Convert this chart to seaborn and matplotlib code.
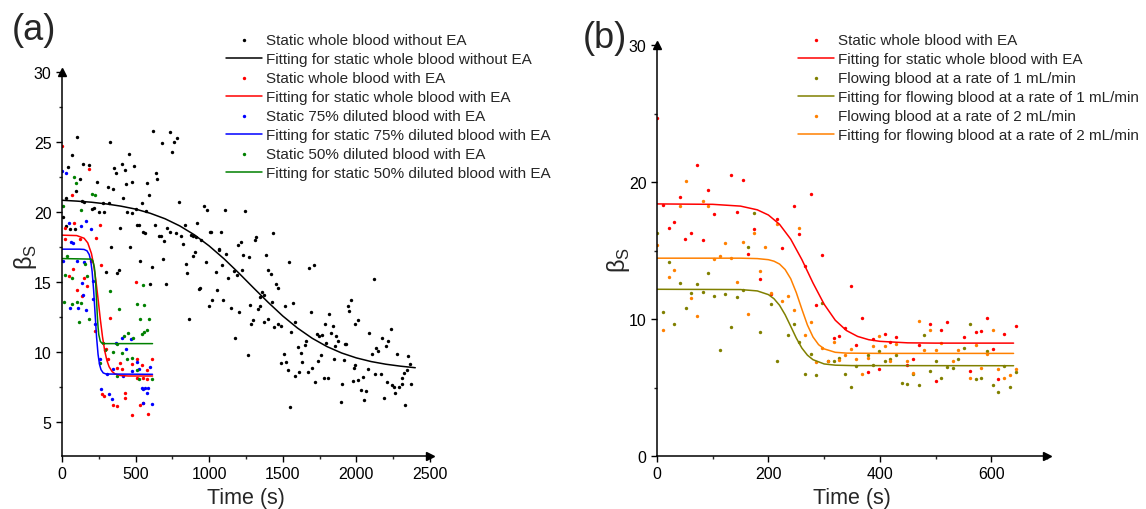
import pandas as pd
import seaborn as sns
import matplotlib.pyplot as plt
from matplotlib.ticker import MultipleLocator

# ---------------- panel (a) ----------------
a_black_t = [104, 326, 620, 734, 783, 763, 677, 747, 66, 453, 145, 181, 43, 356, 405, 367, 428, 491, 636, 648,
             125, 93, 240, 310, 346, 435, 473, 580, 412, 589, 25, 134, 149, 215, 204, 276, 319, 541, 500, 444,
             476, 571, 251, 283, 795, 967, 987, 5, 919, 833, 1005, 29, 54, 86, 396, 512, 525, 630, 548, 562,
             716, 734, 772, 661, 670, 806, 874, 888, 910, 942, 695, 820, 1064, 335, 462, 686, 904, 892, 530, 842,
             978, 297, 376, 387, 609, 851, 1046, 598, 707, 937, 931, 1053, 1017, 998, 860,
             1105, 1243, 1078, 1436, 1196, 1214, 1309, 1320, 1117, 1232, 1273, 1388, 1544, 1680, 1710, 1089,
             1169, 1225, 1128, 1187, 1399, 1417, 1456, 1469, 1361, 1370, 1345, 1096, 1427, 1513, 1572, 1278,
             1343, 1146, 1331, 1205, 1689, 1961, 1941, 1952, 2117, 1296, 1287, 1372, 1401, 1440, 1469, 1487,
             1586, 1557, 1816, 1787, 1838, 1992, 2010, 2235, 1175, 1730, 1748, 1764, 1827, 1863, 1873, 2088,
             2176, 2217, 1796, 1857, 1920, 1931, 1658, 1649, 1601, 1261, 1506, 1621, 1757, 2106, 2133, 2147,
             2199, 2274, 2353, 2362, 1485, 1523, 1630, 1738, 1847, 1913, 1988, 1983, 2079, 1535, 1612, 1671,
             1700, 1583, 1721, 1778, 1809, 1904, 1974, 2010, 2042, 2128, 2167, 2205, 2244, 2258, 2292, 2310,
             2326, 2342, 2308, 2371, 2265, 2185, 2029, 2065, 2049, 1893, 2332, 1551, 1010, 1067]
a_black_b = [25.38, 24.98, 25.81, 25.69, 25.26, 24.98, 24.91, 24.26, 24.07, 24.12, 23.43, 23.36, 23.19, 23.12,
             23.43, 22.76, 23.0, 23.31, 22.76, 22.36, 22.36, 21.53, 22.17, 21.83, 21.62, 22.0, 22.17, 22.07,
             21.02, 21.26, 21.0, 20.81, 20.74, 20.29, 20.22, 20.64, 20.64, 20.64, 20.22, 19.98, 19.93, 20.1,
             20.02, 20.02, 20.76, 20.41, 20.17, 19.69, 19.26, 19.1, 18.62, 19.03, 18.83, 18.83, 18.86, 19.05,
             19.05, 19.07, 18.62, 18.5, 18.86, 18.6, 18.52, 18.33, 18.29, 18.31, 18.38, 18.29, 18.24, 18.03,
             17.91, 17.76, 17.36, 17.48, 17.48, 16.67, 17.17, 16.88, 16.48, 16.33, 16.41, 15.74, 15.69, 15.9,
             16.12, 15.67, 15.74, 14.91, 14.91, 14.6, 14.55, 14.43, 13.72, 13.31, 12.41,
             20.16, 20.09, 18.62, 18.52, 17.69, 17.9, 18.02, 18.24, 17.04, 16.93, 16.81, 16.97, 16.43, 16.02,
             16.21, 16.21, 15.83, 15.86, 15.33, 15.5, 15.88, 15.57, 14.9, 14.62, 14.33, 14.07, 13.95, 13.71,
             13.59, 13.33, 13.5, 13.38, 13.31, 13.14, 13.07, 12.9, 12.9, 13.76, 13.31, 12.95, 15.26, 12.28,
             12.05, 12.19, 12.4, 11.81, 12.05, 11.88, 12.19, 11.45, 12.71, 12.05, 11.88, 12.0, 12.28, 11.69,
             11.05, 11.29, 11.14, 11.26, 11.36, 11.17, 10.81, 11.36, 11.02, 10.79, 10.66, 10.45, 10.62, 10.6,
             10.81, 10.5, 10.4, 9.78, 9.88, 9.97, 9.81, 9.88, 10.33, 10.07, 10.47, 9.88, 9.76, 9.19, 9.26,
             9.33, 9.29, 9.38, 9.55, 9.45, 9.12, 8.9, 8.81, 8.71, 8.62, 8.62, 8.9, 8.31, 7.9, 8.17, 8.14, 7.74,
             7.95, 8.0, 8.26, 8.48, 8.48, 7.88, 7.64, 7.5, 7.55, 8.17, 8.55, 8.74, 7.71, 7.74, 7.12, 6.76, 7.31,
             7.21, 6.59, 6.48, 6.24, 6.09, 18.59, 17.33]
a_black_fit_t = [0, 100, 200, 300, 400, 500, 600, 700, 800, 900, 1000, 1100, 1200, 1300, 1400, 1500, 1600,
                 1700, 1800, 1900, 2000, 2100, 2200, 2300, 2400]
a_black_fit_b = [20.85, 20.79, 20.71, 20.59, 20.43, 20.22, 19.92, 19.53, 19.02, 18.38, 17.59, 16.68, 15.67,
                 14.61, 13.57, 12.59, 11.73, 11.0, 10.41, 9.95, 9.6, 9.34, 9.15, 9.01, 8.9]

a_red_t = [2, 181, 66, 82, 18, 260, 229, 195, 75, 104, 503, 149, 326, 224, 267, 299, 376, 408, 541, 609, 580,
           507, 269, 288, 344, 374, 428, 473, 530, 582, 548, 428, 394, 315, 512, 548, 580, 473, 23, 122, 50,
           134, 168]
a_red_b = [24.69, 23.07, 21.24, 19.24, 18.88, 19.1, 18.19, 16.53, 15.93, 14.48, 15.02, 15.33, 12.45, 11.52,
           16.24, 10.22, 8.91, 8.79, 9.1, 9.5, 8.74, 9.5, 7.0, 6.88, 6.21, 6.17, 6.74, 5.55, 6.26, 5.62, 6.36,
           7.12, 9.26, 9.5, 8.14, 8.19, 8.12, 9.14, 18.07, 18.07, 15.45, 14.02, 14.74]
a_red_fit_t = [0, 100, 150, 175, 200, 215, 230, 245, 260, 275, 290, 305, 320, 340, 360, 400, 450, 615]
a_red_fit_b = [18.36, 18.33, 18.14, 17.81, 17.05, 16.25, 15.15, 13.81, 12.39, 11.12, 10.12, 9.42, 8.97,
               8.63, 8.46, 8.34, 8.31, 8.31]

a_blue_t = [0, 27, 45, 163, 195, 131, 59, 77, 5, 100, 149, 134, 145, 54, 111, 163, 208, 213, 222, 258, 405,
            369, 469, 435, 512, 473, 349, 303, 267, 319, 337, 541, 564, 586, 548, 580, 553, 609, 598, 412, 525]
a_blue_b = [22.95, 22.76, 19.26, 19.38, 18.83, 19.02, 17.88, 17.83, 16.48, 16.48, 16.41, 14.98, 14.1, 13.14,
            13.19, 13.02, 15.1, 13.79, 12.05, 9.5, 11.05, 10.69, 10.93, 10.22, 9.31, 8.67, 8.79, 8.48, 7.36,
            7.0, 6.64, 7.48, 7.48, 7.48, 7.36, 7.07, 6.36, 6.29, 8.98, 8.31, 8.79]
a_blue_fit_t = [0, 120, 150, 170, 185, 195, 205, 215, 225, 235, 245, 255, 265, 280, 300, 615]
a_blue_fit_b = [17.36, 17.36, 17.34, 17.24, 16.97, 16.55, 15.74, 14.42, 12.72, 11.06, 9.85, 9.13, 8.76,
                8.53, 8.45, 8.43]

a_green_t = [82, 95, 202, 222, 5, 129, 32, 156, 20, 168, 70, 11, 66, 100, 127, 113, 186, 326, 385, 512, 559,
             553, 532, 593, 451, 480, 541, 559, 580, 424, 371, 349, 290, 439, 408, 473, 507, 609, 525, 371,
             281, 258]
a_green_b = [22.48, 22.07, 21.33, 21.24, 20.45, 20.14, 16.88, 16.29, 15.5, 15.45, 15.29, 13.6, 13.48, 13.6,
             13.5, 12.19, 12.36, 14.36, 13.12, 13.48, 13.38, 14.83, 12.41, 12.41, 11.36, 11.05, 11.33, 11.43,
             11.57, 11.17, 10.57, 10.02, 10.17, 9.55, 9.98, 9.62, 8.74, 8.07, 8.12, 8.31, 10.69, 9.26]
a_green_fit_t = [0, 200, 210, 220, 225, 230, 235, 240, 245, 250, 260, 270, 290, 615]
a_green_fit_b = [16.69, 16.65, 16.52, 16.05, 15.52, 14.69, 13.66, 12.61, 11.79, 11.26, 10.79, 10.66, 10.62,
                 10.62]

# ---------------- panel (b) ----------------
b_red_t = [0, 10.8, 20.9, 31.1, 41.3, 50.9, 61.0, 71.8, 82.0, 92.2, 102.3, 132.9, 143.0, 153.8, 164.0, 174.1,
           184.3, 204.7, 214.8, 225.0, 245.4, 255.5, 275.9, 265.7, 286.0, 296.2, 317.2, 327.4, 337.5, 347.7,
           357.9, 368.0, 378.2, 388.4, 398.5, 408.7, 418.9, 429.1, 449.4, 459.6, 469.8, 490.1, 500.3, 510.5,
           520.7, 551.2, 561.4, 572.1, 582.3, 592.5, 602.6, 612.8, 623.0, 643.9]
b_red_b = [24.7, 18.29, 16.66, 17.1, 18.9, 15.85, 16.27, 21.27, 15.78, 19.39, 17.66, 20.49, 17.8, 20.12,
           14.73, 16.59, 12.9, 11.83, 17.27, 15.15, 18.24, 16.2, 19.12, 13.85, 11.0, 14.68, 8.61, 8.73, 9.37,
           12.44, 8.12, 10.07, 6.1, 8.51, 6.34, 8.93, 8.29, 8.71, 6.66, 7.07, 8.12, 9.63, 5.51, 9.2, 9.76,
           8.68, 6.22, 9.02, 9.1, 10.05, 7.8, 5.61, 8.9, 9.46]
b_red_fit_t = [0, 100, 150, 180, 200, 220, 240, 260, 280, 300, 320, 340, 360, 380, 400, 450, 500, 640]
b_red_fit_b = [18.4, 18.37, 18.24, 17.97, 17.59, 16.91, 15.83, 14.34, 12.63, 11.08, 9.91, 9.16, 8.73, 8.49,
               8.37, 8.26, 8.24, 8.24]

b_flow1_t = [0, 10.8, 20.9, 31.1, 41.3, 51.5, 61.6, 71.8, 82.0, 92.2, 102.3, 112.5, 122.7, 132.9, 143.0,
             153.8, 164.0, 174.1, 184.3, 204.7, 214.8, 235.2, 245.4, 255.5, 265.7, 275.9, 286.0, 296.2, 306.4,
             317.2, 327.4, 337.5, 347.7, 357.9, 378.2, 388.4, 398.5, 408.7, 418.9, 429.1, 439.3, 449.4, 459.6,
             469.8, 480.0, 490.1, 500.3, 510.5, 520.7, 530.8, 541.0, 551.2, 561.4, 572.1, 582.3, 592.5, 602.6,
             612.8, 623.0, 633.1, 643.9]
b_flow1_b = [16.27, 10.49, 14.15, 9.63, 12.63, 10.8, 11.9, 12.56, 11.95, 13.39, 11.66, 7.73, 11.83, 9.44,
             11.59, 12.15, 15.24, 17.73, 9.02, 11.1, 6.93, 8.85, 9.63, 8.34, 6.0, 7.44, 5.88, 11.15, 6.93, 6.9,
             7.12, 5.98, 5.07, 6.54, 7.39, 6.63, 7.68, 6.93, 7.1, 7.34, 5.32, 5.22, 5.98, 5.15, 8.85, 6.22, 6.93,
             5.66, 6.51, 6.41, 7.07, 7.88, 9.66, 5.61, 5.73, 7.66, 5.17, 4.66, 6.54, 5.07, 6.15]
b_flow1_fit_t = [0, 150, 180, 200, 210, 220, 230, 240, 250, 260, 270, 280, 300, 320, 350, 640]
b_flow1_fit_b = [12.17, 12.15, 12.05, 11.78, 11.48, 11.0, 10.31, 9.47, 8.61, 7.88, 7.36, 7.03, 6.72, 6.63,
                 6.6, 6.59]

b_flow2_t = [0, 10.8, 20.9, 31.1, 41.3, 51.5, 61.6, 71.8, 82.0, 92.2, 102.3, 112.5, 122.7, 132.9, 143.0,
             153.8, 164.0, 174.1, 184.3, 194.5, 204.7, 214.8, 225.0, 235.2, 245.4, 255.5, 265.7, 275.9, 286.0,
             296.2, 306.4, 317.2, 327.4, 337.5, 347.7, 357.9, 368.0, 378.2, 388.4, 398.5, 408.7, 418.9, 429.1,
             449.4, 459.6, 469.8, 480.0, 490.1, 500.3, 510.5, 530.8, 541.0, 561.4, 572.1, 582.3, 592.5, 602.6,
             612.8, 623.0, 633.1, 643.9]
b_flow2_b = [15.37, 9.2, 13.1, 13.56, 18.24, 20.05, 11.54, 10.24, 18.59, 18.24, 14.39, 14.63, 15.54, 14.44,
             12.68, 15.59, 10.34, 16.27, 13.54, 15.22, 11.9, 16.95, 11.34, 11.71, 10.66, 16.66, 8.85, 9.76,
             6.83, 7.85, 6.95, 8.34, 6.98, 7.37, 7.8, 7.05, 5.98, 7.17, 8.0, 8.78, 8.0, 6.9, 8.17, 6.95, 6.05,
             9.85, 7.73, 9.2, 7.76, 8.22, 6.93, 7.73, 5.71, 8.12, 6.46, 7.41, 9.22, 6.34, 5.73, 5.93, 6.34]
b_flow2_fit_t = [0, 150, 180, 200, 210, 220, 230, 240, 250, 260, 270, 280, 290, 300, 320, 340, 400, 640]
b_flow2_fit_b = [14.44, 14.44, 14.41, 14.33, 14.22, 14.01, 13.61, 12.94, 11.93, 10.72, 9.56, 8.69, 8.13,
                 7.82, 7.57, 7.51, 7.49, 7.49]

labels_a = ["Static whole blood without EA", "Fitting for static whole blood without EA",
            "Static whole blood with EA", "Fitting for static whole blood with EA",
            "Static 75% diluted blood with EA", "Fitting for static 75% diluted blood with EA",
            "Static 50% diluted blood with EA", "Fitting for static 50% diluted blood with EA"]
labels_b = ["Static whole blood with EA", "Fitting for static whole blood with EA",
            "Flowing blood at a rate of 1 mL/min", "Fitting for flowing blood at a rate of 1 mL/min",
            "Flowing blood at a rate of 2 mL/min", "Fitting for flowing blood at a rate of 2 mL/min"]

sns.set_style("ticks")
plt.rcParams["font.family"] = ["Liberation Sans", "DejaVu Sans"]

fig = plt.figure(figsize=(11.46, 5.10), dpi=100)
ax_a = fig.add_axes([0.0541, 0.1039, 0.3211, 0.7529])
ax_b = fig.add_axes([0.5733, 0.1039, 0.3403, 0.8059])


def draw_pair(ax, t, b, fit_t, fit_b, color, lab_pts, lab_fit):
    sns.scatterplot(x=t, y=b, color=color, s=6, linewidth=0, ax=ax, label=lab_pts)
    sns.lineplot(x=fit_t, y=fit_b, color=color, lw=1.1, ax=ax, label=lab_fit)


def style_axes(ax, xmax, ylo, yhi, xmaj, xmin_, ymaj, ymin_):
    ax.set_xlim(0, xmax)
    ax.set_ylim(ylo, yhi)
    ax.xaxis.set_major_locator(MultipleLocator(xmaj))
    ax.xaxis.set_minor_locator(MultipleLocator(xmin_))
    ax.yaxis.set_major_locator(MultipleLocator(ymaj))
    ax.yaxis.set_minor_locator(MultipleLocator(ymin_))
    for side in ["top", "right"]:
        ax.spines[side].set_visible(False)
    for side in ["left", "bottom"]:
        ax.spines[side].set_linewidth(1.1)
        ax.spines[side].set_color("black")
    ax.tick_params(which="major", direction="out", length=4, width=1, labelsize=11.5, colors="black")
    ax.tick_params(which="minor", direction="out", length=2, width=1)
    # arrow heads at axis ends
    ax.plot(1, 0, ">k", ms=6, transform=ax.transAxes, clip_on=False)
    ax.plot(0, 1, "^k", ms=6, transform=ax.transAxes, clip_on=False)
    ax.set_xlabel("Time (s)", fontsize=15.5)
    ax.set_ylabel(r"β$_\mathregular{S}$", fontsize=17)


draw_pair(ax_a, a_black_t, a_black_b, a_black_fit_t, a_black_fit_b, "black", labels_a[0], labels_a[1])
draw_pair(ax_a, a_red_t, a_red_b, a_red_fit_t, a_red_fit_b, "#FF0000", labels_a[2], labels_a[3])
draw_pair(ax_a, a_blue_t, a_blue_b, a_blue_fit_t, a_blue_fit_b, "#0000FF", labels_a[4], labels_a[5])
draw_pair(ax_a, a_green_t, a_green_b, a_green_fit_t, a_green_fit_b, "#008000", labels_a[6], labels_a[7])

draw_pair(ax_b, b_red_t, b_red_b, b_red_fit_t, b_red_fit_b, "#FF0000", labels_b[0], labels_b[1])
draw_pair(ax_b, b_flow1_t, b_flow1_b, b_flow1_fit_t, b_flow1_fit_b, "#808000", labels_b[2], labels_b[3])
draw_pair(ax_b, b_flow2_t, b_flow2_b, b_flow2_fit_t, b_flow2_fit_b, "#FF8000", labels_b[4], labels_b[5])

style_axes(ax_a, 2500, 2.6, 30, 500, 250, 5, 2.5)
style_axes(ax_b, 700, 0, 30, 200, 100, 10, 5)

ax_a.xaxis.set_label_coords(0.5, -0.08)
ax_b.xaxis.set_label_coords(0.5, -0.075)
ax_a.yaxis.set_label_coords(-0.062, 0.52)
ax_b.yaxis.set_label_coords(-0.063, 0.48)

for ax, labs, x0 in [(ax_a, labels_a, 226), (ax_b, labels_b, 798)]:
    h, l = ax.get_legend_handles_labels()
    lookup = dict(zip(l, h))
    ax.legend([lookup[k] for k in labs], labs, loc="upper left",
              bbox_to_anchor=(x0 / 1146, 1 - 34 / 510), bbox_transform=fig.transFigure,
              frameon=False, fontsize=11, borderpad=0, borderaxespad=0, labelspacing=0.33,
              handlelength=2.35, handletextpad=0.3, markerscale=1)

fig.text(12 / 1146, 1 - 31 / 510, "(a)", fontsize=26, ha="left", va="center")
fig.text(583 / 1146, 1 - 38 / 510, "(b)", fontsize=26, ha="left", va="center")

fig.savefig("out.png", dpi=100)
plt.close(fig)
